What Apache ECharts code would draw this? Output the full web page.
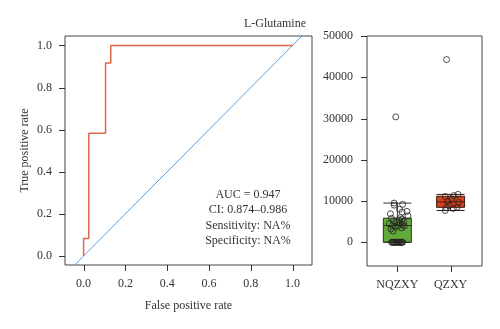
<!DOCTYPE html>
<html>
<head>
<meta charset="utf-8">
<script src="https://cdn.jsdelivr.net/npm/echarts@6/dist/echarts.min.js"></script>
<style>html,body{margin:0;padding:0;background:#fff;}#c{width:500px;height:329px;}</style>
</head>
<body>
<div id="c"></div>
<script>
// ---- ROC data ----
var rocFpr = [0, 0, 0.025, 0.025, 0.105, 0.105, 0.13, 0.13, 1.0];
var rocTpr = [0, 0.0833, 0.0833, 0.5833, 0.5833, 0.9167, 0.9167, 1.0, 1.0];
var refLineX = [-1, 2];
var refLineY = [-1, 2];
var rocTicks = [0, 0.2, 0.4, 0.6, 0.8, 1.0];
var annotations = ['AUC = 0.947', 'CI: 0.874\u20130.986', 'Sensitivity: NA%', 'Specificity: NA%'];

// ---- Box plot data ----
var groups = ['NQZXY', 'QZXY'];
var groupPos = [1, 2];
var nqzxy = [0,0,0,0,0,0,0,0,0,0,0,0,0,0,2700,3200,3500,3700,3900,4000,4100,4300,4500,4600,4800,5000,5200,5400,5600,5800,6000,6400,6900,7300,7500,8000,9000,9200,9500,30400];
var nqJitter = [-0.11,-0.08,-0.05,-0.02,0.01,0.04,0.07,0.1,-0.09,-0.03,0.03,0.09,-0.06,0.06,-0.08,-0.12,0.08,-0.04,0.13,0.02,-0.09,0.1,-0.15,0.05,-0.01,0.12,-0.07,0.03,0.09,-0.11,0.06,0.2,-0.13,0.09,0.18,0.04,-0.06,0.1,-0.06,-0.03];
var qzxy = [7700,8200,8400,8500,8900,9660,9900,10500,11100,11300,11600,44300];
var qzJitter = [-0.1,0.05,-0.08,0.12,-0.03,0.15,-0.05,0.02,-0.1,0.06,0.14,-0.075];
var boxTicks = [0, 10000, 20000, 30000, 40000, 50000];

// axis ranges
var rocX = [-0.089, 1.093], rocY = [-0.043, 1.045];
var boxX = [0.43, 2.59], boxY = [-5750, 50000];

function quantile(sorted, p) {
  var h = (sorted.length - 1) * p, lo = Math.floor(h), hi = Math.ceil(h);
  return sorted[lo] + (h - lo) * (sorted[hi] - sorted[lo]);
}
function boxStats(arr, pos) {
  var s = arr.slice().sort(function(a,b){return a-b;});
  var q1 = quantile(s, 0.25), med = quantile(s, 0.5), q3 = quantile(s, 0.75);
  var iqr = q3 - q1, lo = q1 - 1.5*iqr, hi = q3 + 1.5*iqr;
  var wMin = s.filter(function(v){return v >= lo;})[0];
  var inside = s.filter(function(v){return v <= hi;});
  var wMax = inside[inside.length - 1];
  return [pos, wMin, q1, med, q3, wMax];
}
function jitterPoints(arr, jit, pos) {
  return arr.map(function(v, i){ return [pos + jit[i], v]; });
}
function zip(a, b) { return a.map(function(v,i){ return [v, b[i]]; }); }

var font = 'Liberation Serif, Times New Roman, serif';
var txt = '#333';
var tickColor = '#333';
var chart = echarts.init(document.getElementById('c'), null, {renderer: 'canvas'});
var noLine = {show: false, onZero: false};

chart.setOption({
  backgroundColor: '#fff',
  animation: false,
  title: {
    text: 'L-Glutamine', right: 189, top: 13,
    textStyle: {fontFamily: font, fontSize: 12, fontWeight: 'normal', color: txt}
  },
  grid: [
    {left: 65, top: 36, width: 247, height: 229, show: true, borderColor: '#444', borderWidth: 1, backgroundColor: 'transparent'},
    {left: 367, top: 36, width: 115, height: 230, show: true, borderColor: '#444', borderWidth: 1, backgroundColor: 'transparent'}
  ],
  xAxis: [
    {
      gridIndex: 0, type: 'value', min: rocX[0], max: rocX[1],
      name: 'False positive rate', nameLocation: 'middle', nameGap: 35,
      nameTextStyle: {fontFamily: font, fontSize: 12, color: txt},
      axisLine: noLine, splitLine: {show: false}, axisTick: {show: false},
      axisLabel: {customValues: rocTicks, margin: 13, fontFamily: font, fontSize: 12, color: txt,
        formatter: function(v){ return v.toFixed(1); }}
    },
    {
      gridIndex: 1, type: 'value', min: boxX[0], max: boxX[1],
      axisLine: noLine, splitLine: {show: false}, axisTick: {show: false},
      axisLabel: {customValues: groupPos, margin: 13, fontFamily: font, fontSize: 12, color: txt,
        formatter: function(v){ return groups[Math.round(v) - 1]; }}
    }
  ],
  yAxis: [
    {
      gridIndex: 0, type: 'value', min: rocY[0], max: rocY[1],
      name: 'True positive rate', nameLocation: 'middle', nameGap: 34, nameRotate: 90,
      nameTextStyle: {fontFamily: font, fontSize: 12, color: txt},
      axisLine: noLine, splitLine: {show: false}, axisTick: {show: false},
      axisLabel: {customValues: rocTicks, margin: 13, fontFamily: font, fontSize: 12, color: txt,
        formatter: function(v){ return v.toFixed(1); }}
    },
    {
      gridIndex: 1, type: 'value', min: boxY[0], max: boxY[1],
      axisLine: noLine, splitLine: {show: false}, axisTick: {show: false},
      axisLabel: {customValues: boxTicks, margin: 14, fontFamily: font, fontSize: 12, color: txt,
        formatter: function(v){ return String(v); }}
    }
  ],
  series: [
    {
      type: 'line', xAxisIndex: 0, yAxisIndex: 0, clip: true, symbol: 'none',
      data: zip(refLineX, refLineY), lineStyle: {color: '#5a9fdc', width: 1}
    },
    {
      type: 'line', xAxisIndex: 0, yAxisIndex: 0, symbol: 'none',
      data: zip(rocFpr, rocTpr), lineStyle: {color: '#e0664a', width: 1.5}
    },
    {
      type: 'boxplot', xAxisIndex: 1, yAxisIndex: 1, boxWidth: [28, 28],
      data: [
        {value: boxStats(nqzxy, groupPos[0]), itemStyle: {color: '#62aa3c', borderColor: '#2a3a1e', borderWidth: 1}},
        {value: boxStats(qzxy, groupPos[1]), itemStyle: {color: '#d5421d', borderColor: '#3a1a10', borderWidth: 1}}
      ]
    },
    {
      type: 'scatter', xAxisIndex: 1, yAxisIndex: 1, symbol: 'circle', symbolSize: 6,
      itemStyle: {color: 'rgba(0,0,0,0)', borderColor: '#222', borderWidth: 1},
      data: jitterPoints(nqzxy, nqJitter, groupPos[0]).concat(jitterPoints(qzxy, qzJitter, groupPos[1]))
    }
  ]
});

// Tick marks: positions come from the library's own scales via convertToPixel
var TL = 6;
var graphics = annotations.map(function(t, i){
  return {type: 'text', x: 248, y: 195 + i * 15.3,
    style: {text: t, fontFamily: font, fontSize: 12, fill: txt, textAlign: 'center', textVerticalAlign: 'middle'}};
});
function addXTicks(vals, gridIndex, yMin) {
  vals.forEach(function(v){
    var p = chart.convertToPixel({gridIndex: gridIndex}, [v, yMin]);
    var x = Math.round(p[0]) + 0.5, y = p[1];
    graphics.push({type: 'line', silent: true, z: 100,
      shape: {x1: x, y1: y, x2: x, y2: y + TL}, style: {stroke: tickColor, lineWidth: 1}});
  });
}
function addYTicks(vals, gridIndex, xMin) {
  vals.forEach(function(v){
    var p = chart.convertToPixel({gridIndex: gridIndex}, [xMin, v]);
    var x = p[0], y = Math.round(p[1]) + 0.5;
    graphics.push({type: 'line', silent: true, z: 100,
      shape: {x1: x - TL, y1: y, x2: x, y2: y}, style: {stroke: tickColor, lineWidth: 1}});
  });
}
addXTicks(rocTicks, 0, rocY[0]);
addYTicks(rocTicks, 0, rocX[0]);
addXTicks(groupPos, 1, boxY[0]);
addYTicks(boxTicks, 1, boxX[0]);
chart.setOption({graphic: graphics});
</script>
</body>
</html>
